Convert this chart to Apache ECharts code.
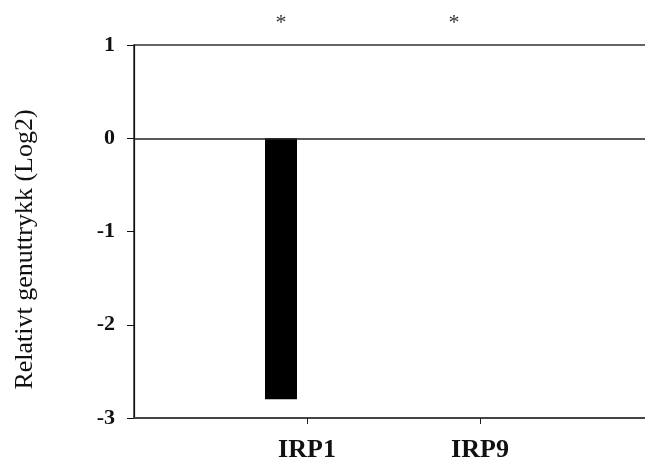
<!DOCTYPE html>
<html>
<head>
<meta charset="utf-8">
<script src="https://cdn.jsdelivr.net/npm/echarts@6/dist/echarts.min.js"></script>
<style>html,body{margin:0;padding:0;background:#fff}#c{width:645px;height:463px}</style>
</head>
<body>
<div id="c"></div>
<script>
// Data
var categories = ['', 'IRP1', 'IRP9', ''];
var expression = [null, -2.8, 0, null];
var significance = ['', '*', '*', ''];
var yTicks = [-3, -2, -1, 0, 1];
var yTitle = 'Relativt genuttrykk (Log2)';

var FONT = "'Times New Roman', 'Liberation Serif', serif";
var STAR_LEVEL = 1.12;

var chart = echarts.init(document.getElementById('c'), null, {renderer: 'canvas'});
chart.setOption({
  animation: false,
  backgroundColor: '#fff',
  grid: {left: 134, width: 519, top: 45, bottom: 45, outerBoundsMode: 'none', containLabel: false,
    show: true, borderColor: '#333', borderWidth: 1.5, backgroundColor: 'transparent'},
  xAxis: {
    type: 'category',
    data: categories,
    boundaryGap: false,
    axisLine: {onZero: false, lineStyle: {color: '#444', width: 2}},
    axisTick: {length: 6, lineStyle: {color: '#222', width: 1}, interval: function (i, v) { return v !== ''; }},
    axisLabel: {fontFamily: FONT, fontWeight: 'bold', fontSize: 26, color: '#111', margin: 19, interval: 0},
    splitLine: {show: false}
  },
  yAxis: {
    type: 'value',
    min: yTicks[0], max: yTicks[yTicks.length - 1], interval: 1,
    axisLine: {show: true, lineStyle: {color: '#111', width: 1.2}},
    axisTick: {show: true, length: 7, lineStyle: {color: '#111'}},
    axisLabel: {fontFamily: FONT, fontWeight: 'bold', fontSize: 22, color: '#111', margin: 19},
    splitLine: {show: false},
    name: yTitle,
    nameLocation: 'middle',
    nameRotate: 90,
    nameGap: 96,
    nameTextStyle: {fontFamily: FONT, fontSize: 26, color: '#111', padding: [0, 36, 0, 0]}
  },
  series: [
    {
      type: 'bar', stack: 'a', data: expression, barWidth: 32, barGap: '62.5%',
      itemStyle: {color: '#000'},
      markLine: {silent: true, symbol: 'none', label: {show: false},
        lineStyle: {color: '#222', width: 1.5, type: 'solid'},
        data: [{yAxis: 0}]}
    },
    {
      type: 'bar', stack: 'a', barWidth: 32, barGap: '62.5%', clip: false,
      data: significance.map(function (s) { return s ? STAR_LEVEL : null; }),
      itemStyle: {color: 'rgba(0,0,0,0)'},
      label: {show: true, position: 'top', distance: 0, fontFamily: FONT, fontSize: 22, color: '#333',
        formatter: function (p) { return significance[p.dataIndex]; }}
    },
    {
      type: 'bar', barWidth: 32, barGap: '62.5%',
      data: categories.map(function () { return null; })
    }
  ]
});
</script>
</body>
</html>
